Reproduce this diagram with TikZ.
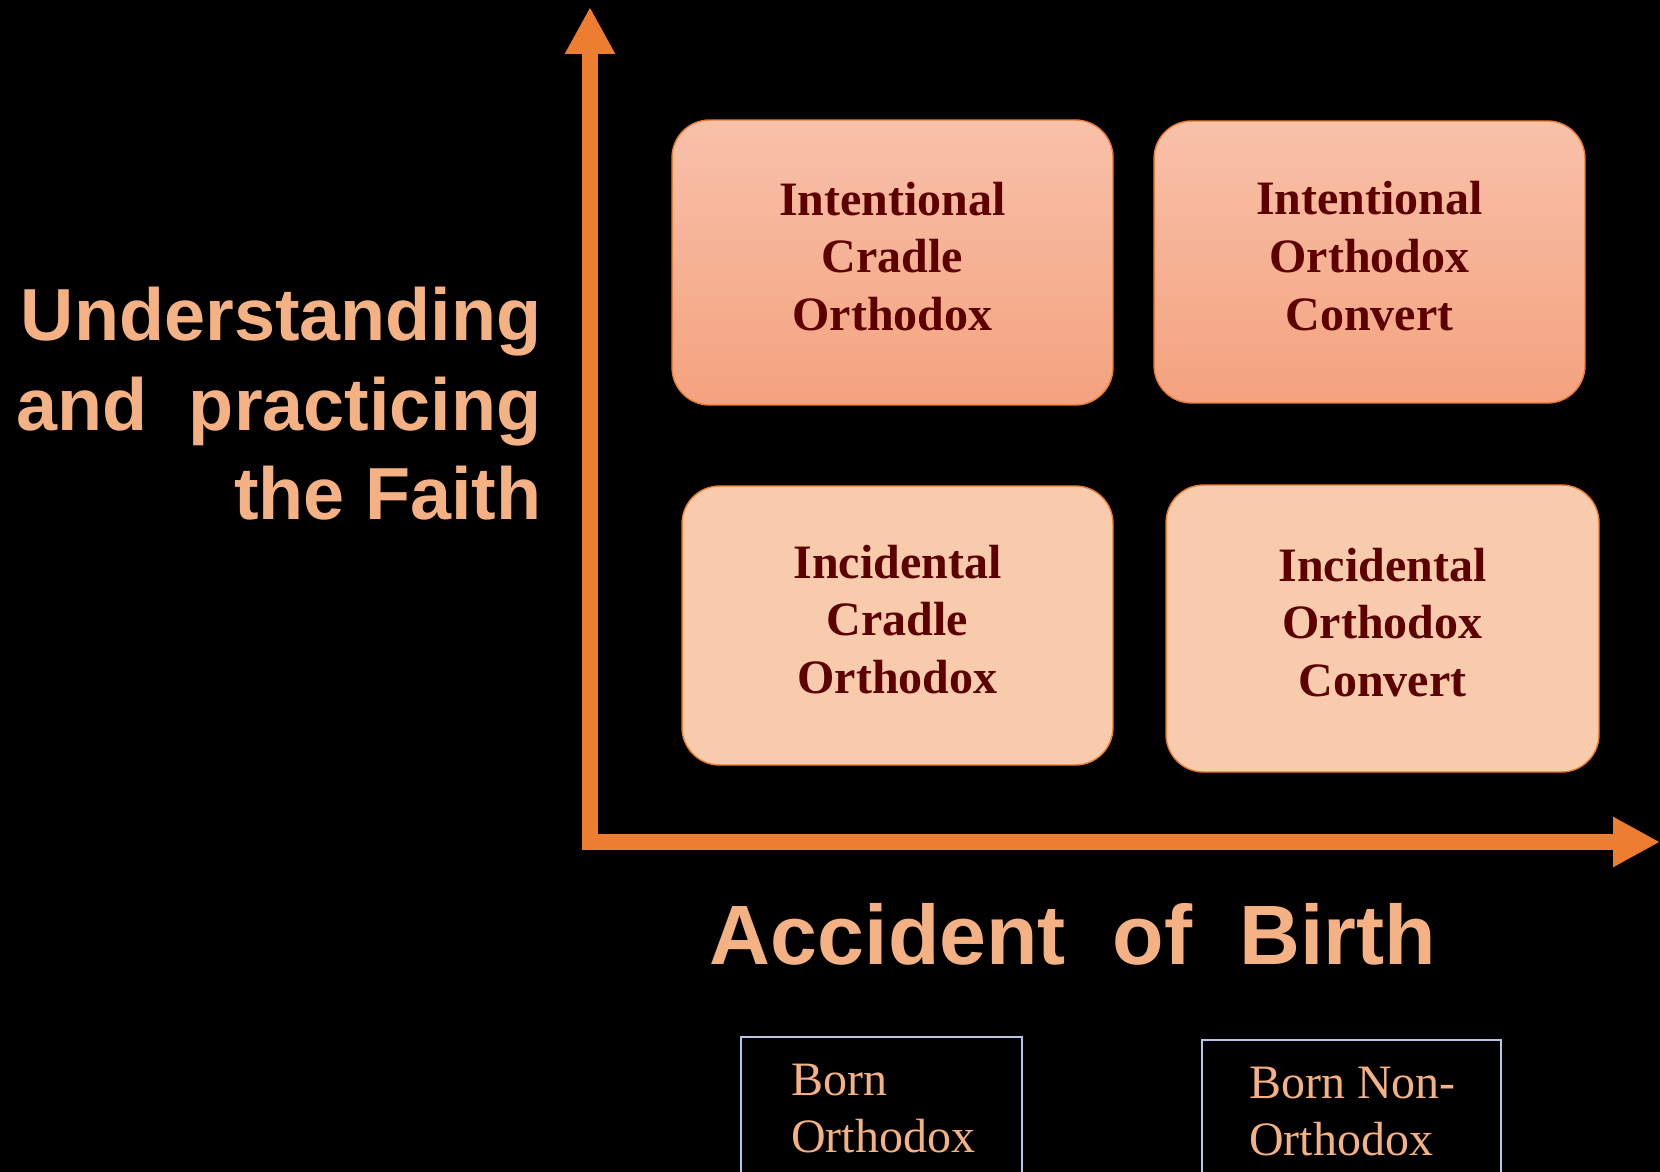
\documentclass[tikz,border=0pt]{standalone}
\usepackage{fontspec}
\setmainfont{Liberation Serif}
\setsansfont{Liberation Sans}
\usetikzlibrary{arrows.meta}

\definecolor{axisorange}{HTML}{ED7D31}
\definecolor{peach}{HTML}{F4B183}
\definecolor{quadtop}{HTML}{F8C1A9}
\definecolor{quadbot}{HTML}{F4A27F}
\definecolor{quadlight}{HTML}{F8CBAD}
\definecolor{darkmaroon}{HTML}{5C0000}
\definecolor{framegray}{HTML}{B4C7E7}

\begin{document}
\begin{tikzpicture}[x=0.02cm, y=-0.02cm,
    quad/.style={draw=axisorange, line width=0.8pt, rounded corners=0.75cm,
        align=center, text=darkmaroon, text depth=7pt,
        font=\bfseries\fontsize{27.3}{32.8}\selectfont},
    intentional/.style={quad, top color=quadtop, bottom color=quadbot},
    incidental/.style={quad, fill=quadlight},
    axislabel/.style={text=peach, inner sep=0pt, font=\sffamily\bfseries\fontsize{42}{51}\selectfont},
    birthbox/.style={anchor=base west, align=left, text=peach, inner sep=0pt,
        font=\fontsize{27.3}{32.4}\selectfont},
    birthframe/.style={draw=framegray, line width=0.8pt}]
    \path[use as bounding box, fill=black] (0,0) rectangle (1660,1172);
    \clip (0,0) rectangle (1660,1172);
    % axes
    \coordinate (ytop) at (590,7);
    \coordinate (origin) at (590,842);
    \coordinate (xend) at (1660,842);
    \draw[axisorange, line width=0.32cm,
        {Triangle[length=0.94cm,width=0.94cm]}-{Triangle[length=0.94cm,width=0.94cm]}]
        (ytop) -- (origin) -- (xend);
    \node[axislabel, anchor=east, align=right] (faith) at (542,404)
        {Understanding\\and\ \ practicing\\the Faith};
    \node[axislabel, font=\sffamily\bfseries\fontsize{48}{58}\selectfont] (birth) at (1073,934)
        {Accident\ \ of\ \ Birth};
    % quadrants
    \node[intentional, minimum width=8.82cm, minimum height=5.7cm] (intcradle) at (892.5,262.5)
        {Intentional\\Cradle\\Orthodox};
    \node[intentional, minimum width=8.62cm, minimum height=5.64cm] (intconvert) at (1369.5,262)
        {Intentional\\Orthodox\\Convert};
    \node[incidental, minimum width=8.62cm, minimum height=5.58cm] (inccradle) at (897.5,625.5)
        {Incidental\\Cradle\\Orthodox};
    \node[incidental, minimum width=8.66cm, minimum height=5.74cm] (incconvert) at (1382.5,628.5)
        {Incidental\\Orthodox\\Convert};
    % birth boxes
    \draw[birthframe] (741,1037) rectangle (1022,1200);
    \node[birthbox] (bornorth) at (791,1152) {Born\\Orthodox};
    \draw[birthframe] (1202,1040) rectangle (1501,1200);
    \node[birthbox] (bornnon) at (1249,1155) {Born Non-\\Orthodox};
\end{tikzpicture}
\end{document}
